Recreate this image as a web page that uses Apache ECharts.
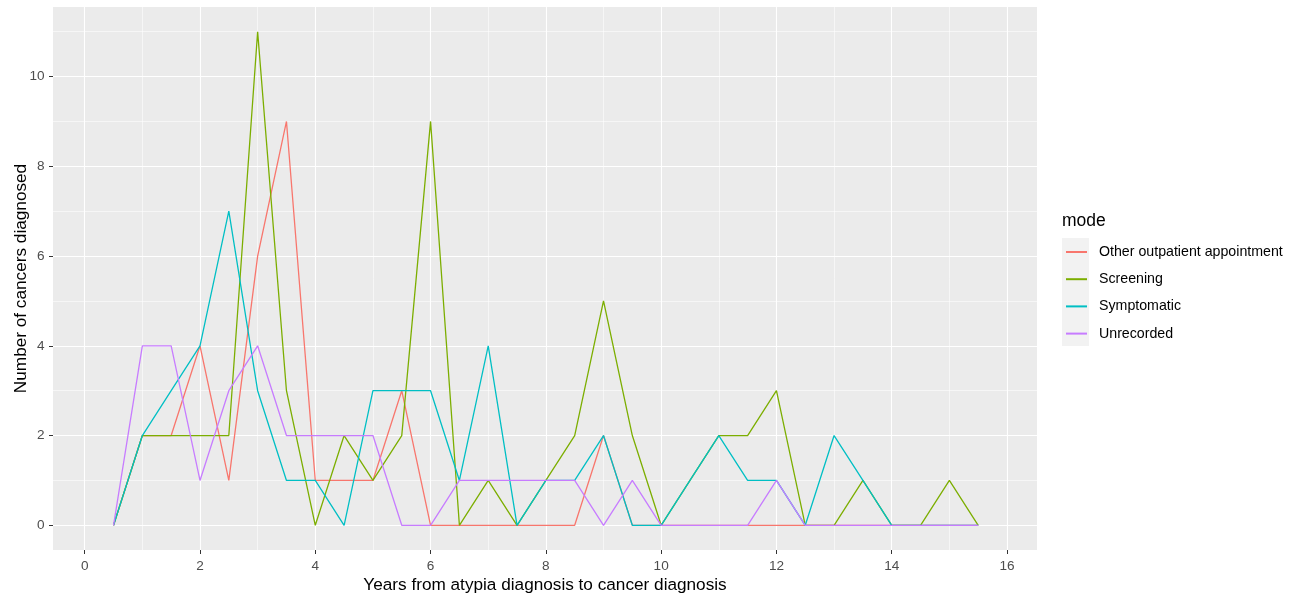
<!DOCTYPE html>
<html>
<head>
<meta charset="utf-8">
<script src="https://cdn.jsdelivr.net/npm/echarts@6/dist/echarts.min.js"></script>
<style>
  html, body { margin: 0; padding: 0; background: #ffffff; }
  #chart { width: 1301px; height: 596px; }
</style>
</head>
<body>
<div id="chart"></div>
<script>
// Years from atypia diagnosis, in half-year steps
const years = [0.5, 1, 1.5, 2, 2.5, 3, 3.5, 4, 4.5, 5, 5.5, 6, 6.5, 7, 7.5, 8,
               8.5, 9, 9.5, 10, 10.5, 11, 11.5, 12, 12.5, 13, 13.5, 14, 14.5, 15, 15.5];

// Cancers diagnosed per mode of detection
const otherOutpatient = [0, 2, 2, 4, 1, 6, 9, 1, 1, 1, 3, 0, 0, 0, 0, 0,
                         0, 2, 0, 0, 0, 0, 0, 0, 0, 0, 0, 0, 0, 0, 0];
const screening       = [0, 2, 2, 2, 2, 11, 3, 0, 2, 1, 2, 9, 0, 1, 0, 1,
                         2, 5, 2, 0, 1, 2, 2, 3, 0, 0, 1, 0, 0, 1, 0];
const symptomatic     = [0, 2, 3, 4, 7, 3, 1, 1, 0, 3, 3, 3, 1, 4, 0, 1,
                         1, 2, 0, 0, 1, 2, 1, 1, 0, 2, 1, 0, 0, 0, 0];
const unrecorded      = [0, 4, 4, 1, 3, 4, 2, 2, 2, 2, 0, 0, 1, 1, 1, 1,
                         1, 0, 1, 0, 0, 0, 0, 1, 0, 0, 0, 0, 0, 0, 0];

const modeNames = ['Other outpatient appointment', 'Screening', 'Symptomatic', 'Unrecorded'];
const modeColors = ['#F8766D', '#7CAE00', '#00BFC4', '#C77CFF'];

// Axis breaks
const xMajorTicks = [0, 2, 4, 6, 8, 10, 12, 14, 16];
const xMinorTicks = [1, 3, 5, 7, 9, 11, 13, 15];
const yMajorTicks = [0, 2, 4, 6, 8, 10];
const yMinorTicks = [1, 3, 5, 7, 9, 11];

const FONT = '"Liberation Sans", Arial, sans-serif';
const TICK_FONT = 13.6;
const TITLE_FONT = 17.2;
const X_MIN = -0.55, X_MAX = 16.52;
const Y_MIN = -0.55, Y_MAX = 11.55;

const seriesValues = [otherOutpatient, screening, symptomatic, unrecorded];

const chart = echarts.init(document.getElementById('chart'), null, { renderer: 'canvas' });

const hiddenAxisParts = {
  axisLine: { show: false, onZero: false },
  axisLabel: { show: false }
};

chart.setOption({
  animation: false,
  backgroundColor: '#ffffff',
  textStyle: { fontFamily: FONT },
  title: {
    text: 'mode',
    left: 1062,
    top: 212,
    padding: 0,
    textStyle: { fontFamily: FONT, fontSize: 17.5, fontWeight: 'normal', color: '#000000' }
  },
  legend: {
    orient: 'vertical',
    left: 1065,
    top: 244,
    padding: 0,
    itemWidth: 21,
    itemHeight: 16,
    itemGap: 11.2,
    selectedMode: false,
    data: modeNames,
    itemStyle: { opacity: 0 },
    textStyle: { fontFamily: FONT, fontSize: 14.2, color: '#000000', lineHeight: 16, padding: [0, 0, 0, 7] }
  },
  graphic: [{
    type: 'rect',
    z: -1,
    shape: { x: 1062, y: 238, width: 27, height: 108 },
    style: { fill: '#F2F2F2' },
    silent: true
  }],
  grid: {
    left: 53,
    right: 264,
    top: 7,
    bottom: 46,
    containLabel: false,
    outerBoundsMode: 'none',
    show: true,
    backgroundColor: '#EBEBEB',
    borderWidth: 0
  },
  xAxis: [{
    type: 'value',
    min: X_MIN,
    max: X_MAX,
    name: 'Years from atypia diagnosis to cancer diagnosis',
    nameLocation: 'middle',
    nameGap: 27,
    nameMoveOverlap: false,
    nameTextStyle: { fontFamily: FONT, fontSize: TITLE_FONT, color: '#000000' },
    axisLine: { show: false, onZero: false },
    axisTick: { show: true, length: 4, customValues: xMajorTicks, lineStyle: { color: '#333333', width: 1 } },
    axisLabel: { customValues: xMajorTicks, margin: 9, fontFamily: FONT, fontSize: TICK_FONT, color: '#4D4D4D' },
    splitLine: { show: true, lineStyle: { color: '#FFFFFF', width: 1.1 } }
  }, {
    type: 'value',
    min: X_MIN,
    max: X_MAX,
    position: 'top',
    ...hiddenAxisParts,
    axisTick: { show: false, customValues: xMinorTicks },
    splitLine: { show: true, lineStyle: { color: '#FFFFFF', width: 0.55 } }
  }],
  yAxis: [{
    type: 'value',
    min: Y_MIN,
    max: Y_MAX,
    name: 'Number of cancers diagnosed',
    nameLocation: 'middle',
    nameGap: 23,
    nameMoveOverlap: false,
    nameTextStyle: { fontFamily: FONT, fontSize: TITLE_FONT, color: '#000000' },
    axisLine: { show: false, onZero: false },
    axisTick: { show: true, length: 4, customValues: yMajorTicks, lineStyle: { color: '#333333', width: 1 } },
    axisLabel: { customValues: yMajorTicks, margin: 8.5, fontFamily: FONT, fontSize: TICK_FONT, color: '#4D4D4D' },
    splitLine: { show: true, lineStyle: { color: '#FFFFFF', width: 1.1 } }
  }, {
    type: 'value',
    min: Y_MIN,
    max: Y_MAX,
    position: 'right',
    ...hiddenAxisParts,
    axisTick: { show: false, customValues: yMinorTicks },
    splitLine: { show: true, lineStyle: { color: '#FFFFFF', width: 0.55 } }
  }],
  series: modeNames.map((name, i) => ({
    name: name,
    type: 'line',
    xAxisIndex: 0,
    yAxisIndex: 0,
    symbol: 'none',
    showSymbol: false,
    color: modeColors[i],
    lineStyle: { color: modeColors[i], width: 1.3 },
    emphasis: { disabled: true },
    data: years.map((x, j) => [x, seriesValues[i][j]])
  }))
});
</script>
</body>
</html>
